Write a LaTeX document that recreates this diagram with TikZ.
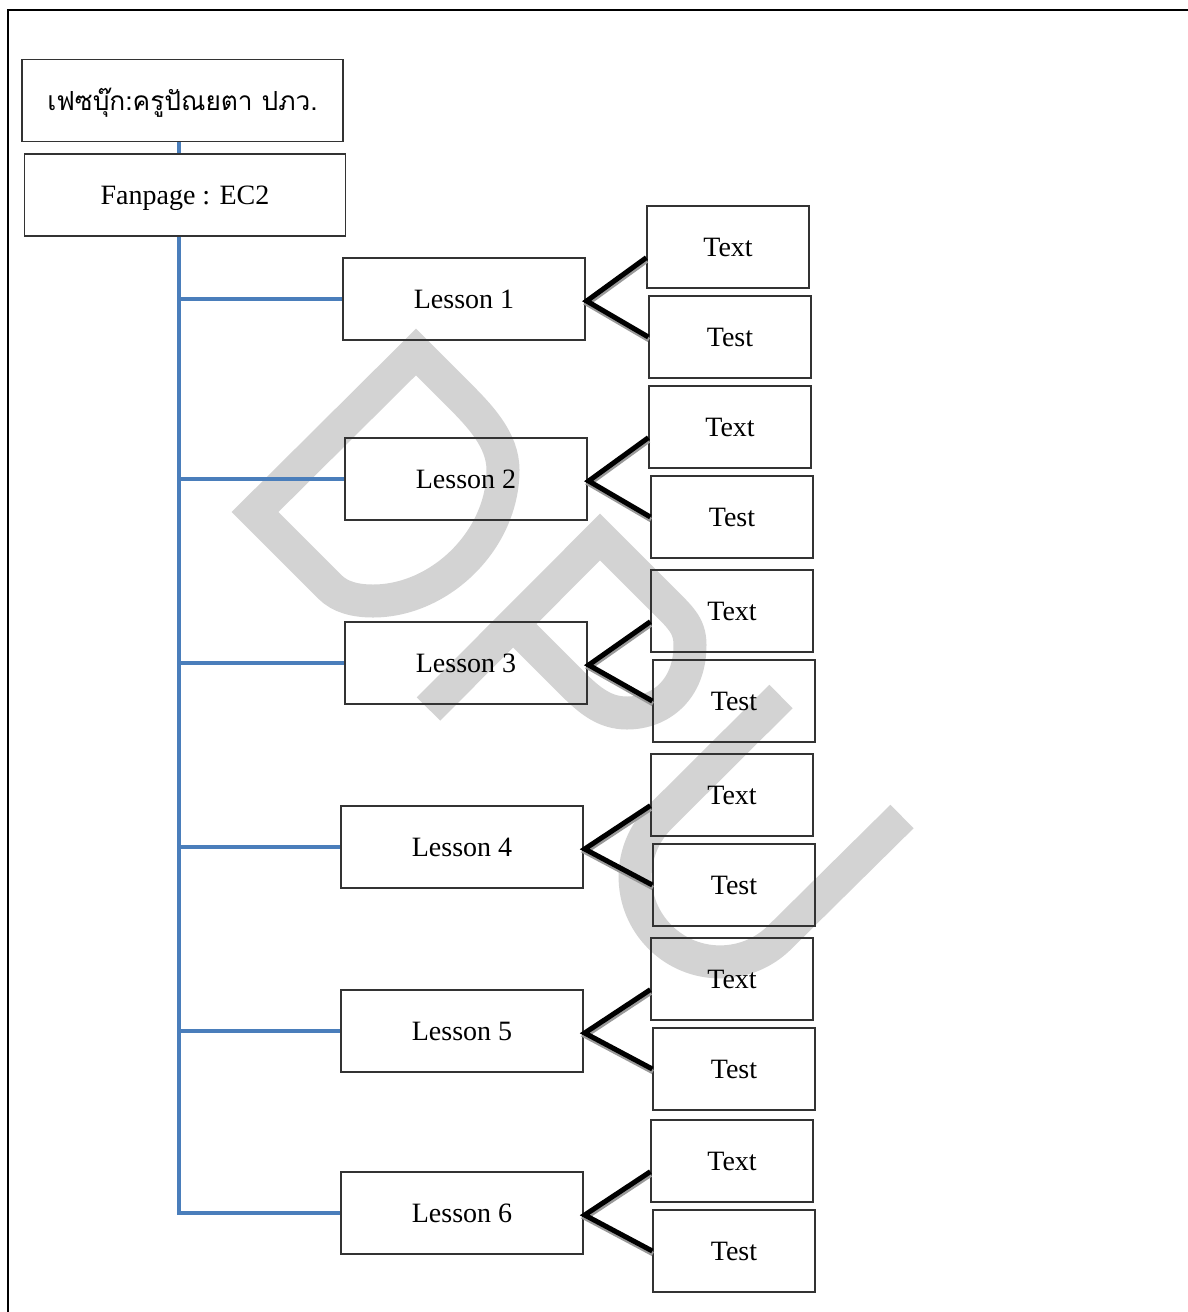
\documentclass[tikz,border=0pt]{standalone}
\usepackage{fontspec}
\setmainfont{Liberation Serif}
\newfontfamily\thaifont[Script=Thai]{Loma}
\usetikzlibrary{calc}
\definecolor{wmgray}{RGB}{211,211,211}
\definecolor{trunkblue}{RGB}{74,126,187}
\tikzset{
  basebox/.style={draw=black!80, line width=1.3pt, inner sep=0pt, minimum height=82pt,
    text height=19pt, text depth=0pt, font=\fontsize{28}{32}\selectfont},
  topbox/.style={basebox, minimum width=321pt},
  lbox/.style={basebox, minimum width=242pt},
  sbox/.style={basebox, minimum width=162pt},
  trunk/.style={draw=trunkblue, line width=3.5pt, line join=miter},
  link/.style={draw=black, line width=5pt, line join=miter},
  linkshadow/.style={draw=black!40, line width=4.5pt, line join=miter},
  wm/.style={draw=wmgray, line width=33pt, line join=miter, miter limit=10}
}
\begin{document}
\begin{tikzpicture}[x=1pt,y=-1pt]
\useasboundingbox (0,0) rectangle (1188,1312);
% watermark DPU
\draw[wm] (255,512) -- (416,352) -- (458,394) .. controls (480,416) and (503,440) .. (503,470)
  .. controls (503,540) and (440,601) .. (373,601) .. controls (355,601) and (340,597) .. (330,587) -- cycle;
\draw[wm] (428.5,709) -- (600,537) -- (660,597) .. controls (680,617) and (690,625) .. (690,645)
  .. controls (690,690) and (660,713) .. (627,713) .. controls (605,713) and (590,701) .. (573,684) -- (513,624);
\draw[wm] (781,696.5) -- (660,817) .. controls (626.8,850.2) and (626.8,903.8) .. (660,937)
  .. controls (693.2,970.2) and (746.8,970.2) .. (780,937) -- (902,816.5);
% frame
\draw[line width=2pt] (8,1320) -- (8,10) -- (1195,10);
% nodes
\node[topbox, text height=20pt, font=\fontsize{26.3}{30}\selectfont] (thai) at (182.5,100.5) {\thaifont เฟซบุ๊ก:ครูปัณยตา ปภว.};
\node[topbox] (fan) at (185,195) {Fanpage : EC2};
\node[lbox] (L1) at (464,299) {Lesson 1};
\node[lbox] (L2) at (466,479) {Lesson 2};
\node[lbox] (L3) at (466,663) {Lesson 3};
\node[lbox] (L4) at (462,847) {Lesson 4};
\node[lbox] (L5) at (462,1031) {Lesson 5};
\node[lbox] (L6) at (462,1213) {Lesson 6};
\node[sbox] (X1) at (728,247) {Text};
\node[sbox] (T1) at (730,337) {Test};
\node[sbox] (X2) at (730,427) {Text};
\node[sbox] (T2) at (732,517) {Test};
\node[sbox] (X3) at (732,611) {Text};
\node[sbox] (T3) at (734,701) {Test};
\node[sbox] (X4) at (732,795) {Text};
\node[sbox] (T4) at (734,885) {Test};
\node[sbox] (X5) at (732,979) {Text};
\node[sbox] (T5) at (734,1069) {Test};
\node[sbox] (X6) at (732,1161) {Text};
\node[sbox] (T6) at (734,1251) {Test};
% blue tree
\coordinate (t0) at (179,0);
\draw[trunk] (thai.south -| t0) -- (fan.north -| t0);
\draw[trunk] (fan.south -| t0) -- (L6.west -| t0) -- (L6.west);
\foreach \i in {1,...,5} {
  \draw[trunk] (L\i.west -| t0) -- (L\i.west);
}
% black links
\foreach \i in {1,...,6} {
  \draw[linkshadow] ($(X\i.south west)+(0.5,-28)$) -- ($(L\i.east)+(1.5,5)$) -- ($(T\i.west)+(0.5,3)$);
  \draw[link] ($(X\i.south west)+(0,-31)$) -- ($(L\i.east)+(1,2)$) -- (T\i.west);
}
\end{tikzpicture}
\end{document}
